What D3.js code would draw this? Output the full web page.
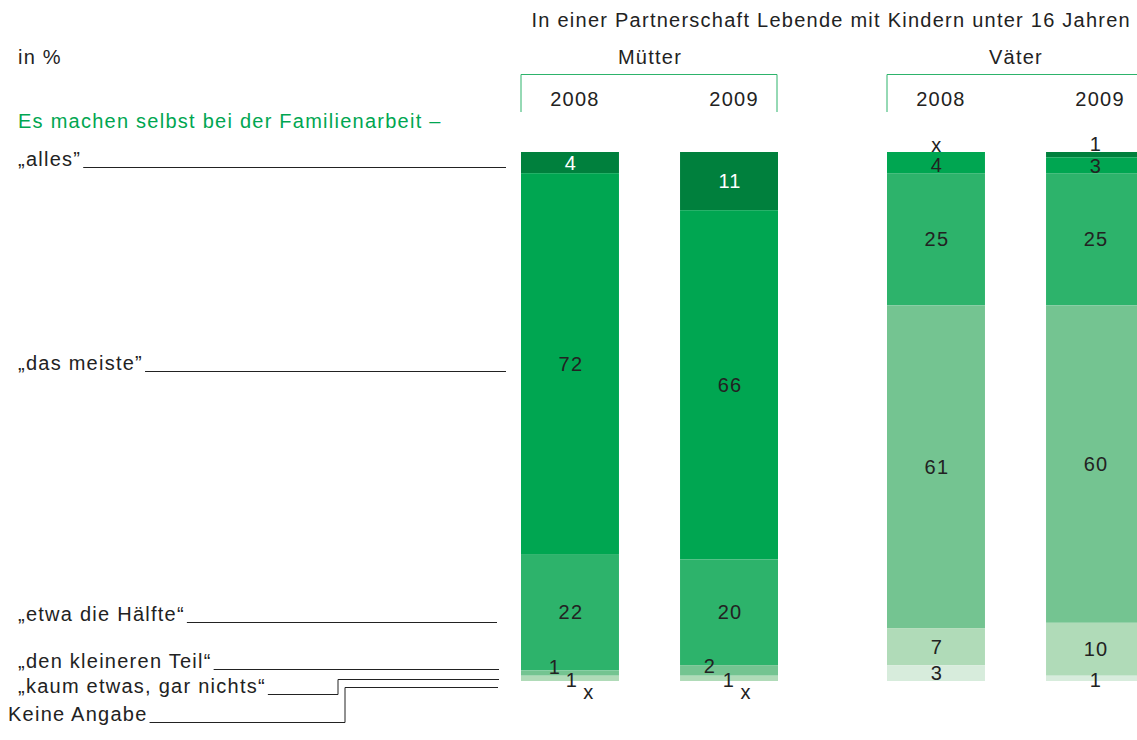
<!DOCTYPE html>
<html>
<head>
<meta charset="utf-8">
<script src="https://cdn.jsdelivr.net/npm/d3@7"></script>
<style>
  body { margin: 0; background: #fff; }
  svg text { font-family: "Liberation Sans", Arial, sans-serif; fill: #222; letter-spacing: 1.25px; }
</style>
</head>
<body>
<svg id="chart"></svg>
<script>
const width = 1137;
const height = 740;
const fontSize = "20px";

// data
const categories = ["„alles”", "„das meiste”", "„etwa die Hälfte“", "„den kleineren Teil“", "„kaum etwas, gar nichts“", "Keine Angabe"];
const groups = ["Mütter", "Väter"];
const years = ["2008", "2009"];
// values per category, top to bottom; null = "x"
const muetter2008 = [4, 72, 22, 1, 1, null];
const muetter2009 = [11, 66, 20, 2, 1, null];
const vaeter2008 = [null, 4, 25, 61, 7, 3];
const vaeter2009 = [1, 3, 25, 60, 10, 1];

const series = [
    { group: "Mütter", year: "2008", values: muetter2008 },
    { group: "Mütter", year: "2009", values: muetter2009 },
    { group: "Väter", year: "2008", values: vaeter2008 },
    { group: "Väter", year: "2009", values: vaeter2009 }
];

const colors = ["#00803d", "#00a651", "#2db36b", "#74c491", "#b0dbb8", "#d7ecdc"];

// label nudges for thin segments (key: group|year|category index)
const nudge = {
    "Mütter|2008|3": [-16, -6], "Mütter|2008|4": [1, 2], "Mütter|2008|5": [18, 11],
    "Mütter|2009|3": [-20, -4], "Mütter|2009|4": [-1, 2], "Mütter|2009|5": [16, 11],
    "Väter|2008|0": [0, -7], "Väter|2008|1": [0, 2],
    "Väter|2009|0": [0, -11], "Väter|2009|1": [0, 1], "Väter|2009|5": [0, 2]
};

const svg = d3.select("#chart")
    .attr("width", width)
    .attr("height", height);

const y = d3.scaleLinear().domain([0, 100]).range([152, 681]);
const xGroup = d3.scalePoint().domain(groups).range([521, 887]);
const xYear = d3.scaleBand().domain(years).range([0, 257]).paddingInner(0.384);
const barX = d => xGroup(d.group) + xYear(d.year);

// headings
svg.append("text")
    .attr("x", 1131).attr("y", 27)
    .attr("text-anchor", "end")
    .style("font-size", fontSize)
    .text("In einer Partnerschaft Lebende mit Kindern unter 16 Jahren");

svg.append("text").attr("x", 18).attr("y", 64).style("font-size", fontSize).text("in %");
svg.append("text").attr("x", 18).attr("y", 128)
    .style("font-size", fontSize).style("fill", "#00a651")
    .text("Es machen selbst bei der Familienarbeit –");

// group brackets
groups.forEach(g => {
    const x0 = xGroup(g);
    const x1 = x0 + xYear.range()[1] - 1;
    svg.append("path")
        .attr("d", `M${x0},112V74.5H${x1}V112`)
        .attr("fill", "none")
        .attr("stroke", "#2db36b")
        .attr("stroke-width", 1);
    svg.append("text")
        .attr("x", (x0 + x1) / 2 + 1).attr("y", 64)
        .attr("text-anchor", "middle")
        .style("font-size", fontSize)
        .text(g);
});

series.forEach(s => {
    svg.append("text")
        .attr("x", barX(s) + xYear.bandwidth() / 2 + 5).attr("y", 106)
        .attr("text-anchor", "middle")
        .style("font-size", fontSize)
        .text(s.year);
});

// bars
series.forEach(s => {
    let acc = 0;
    const segs = s.values.map((v, i) => {
        const seg = { i, v, y0: acc, y1: acc + (v || 0) };
        acc += v || 0;
        return seg;
    });
    const g = svg.append("g").attr("transform", `translate(${barX(s)},0)`);
    g.selectAll("rect")
        .data(segs.filter(d => d.v))
        .enter()
        .append("rect")
        .attr("x", 0)
        .attr("y", d => y(d.y0))
        .attr("width", xYear.bandwidth())
        .attr("height", d => y(d.y1) - y(d.y0))
        .attr("fill", d => colors[d.i]);

    g.selectAll("text")
        .data(segs)
        .enter()
        .append("text")
        .attr("x", d => xYear.bandwidth() / 2 + 1 + (nudge[`${s.group}|${s.year}|${d.i}`] || [0, 0])[0])
        .attr("y", d => (y(d.y0) + y(d.y1)) / 2 + (nudge[`${s.group}|${s.year}|${d.i}`] || [0, 0])[1])
        .attr("dy", "0.35em")
        .attr("text-anchor", "middle")
        .style("font-size", fontSize)
        .style("fill", d => (d.i === 0 && d.v > 3) ? "#fff" : "#222")
        .text(d => d.v === null ? "x" : d.v);
});

// category labels with leader lines
const labelRows = [
    { y: 167, x: 18, end: 506 },
    { y: 371, x: 18, end: 506 },
    { y: 622, x: 18, end: 497 },
    { y: 669, x: 18, end: 499 },
    { y: 694, x: 18, end: 499, elbowX: 338, elbowY: 679 },
    { y: 722, x: 8, end: 498, elbowX: 345, elbowY: 687 }
];

categories.forEach((c, i) => {
    const row = labelRows[i];
    const t = svg.append("text")
        .attr("x", row.x).attr("y", row.y - 1)
        .style("font-size", fontSize)
        .text(c);
    const x0 = row.x + t.node().getComputedTextLength() + 2;
    const d = row.elbowX
        ? `M${x0},${row.y + 0.5}H${row.elbowX}V${row.elbowY + 0.5}H${row.end}`
        : `M${x0},${row.y + 0.5}H${row.end}`;
    svg.append("path")
        .attr("d", d)
        .attr("fill", "none")
        .attr("stroke", "#222")
        .attr("stroke-width", 1);
});
</script>
</body>
</html>
